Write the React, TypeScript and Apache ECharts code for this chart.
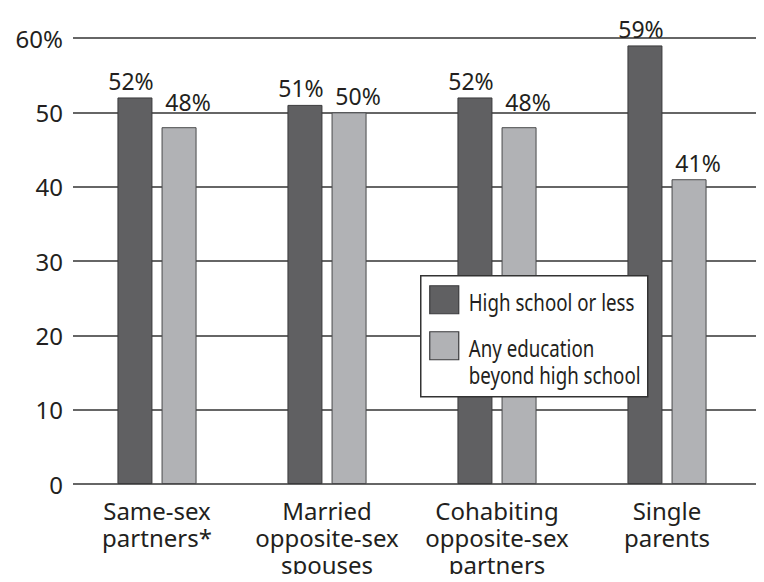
import React, { useEffect, useRef } from "react";
import * as echarts from "echarts";

const categories = [
  "Same-sex\npartners*",
  "Married\nopposite-sex\nspouses",
  "Cohabiting\nopposite-sex\npartners",
  "Single\nparents",
];
const highSchool = [52, 51, 52, 59];
const beyond = [48, 50, 48, 41];
const seriesNames = ["High school or less", "Any education\nbeyond high school"];
const yMax = 60;
const yStep = 10;

const FONT = "'Noto Sans', 'Open Sans', sans-serif";
const DARK = "#606062";
const LIGHT = "#b1b2b5";
const TEXT = "#231f20";

export default function App() {
  const ref = useRef<HTMLDivElement>(null);
  useEffect(() => {
    if (!ref.current) return;
    const chart = echarts.init(ref.current, undefined, { renderer: "svg" });
    const label = (dx: number) => ({
      show: true,
      position: "top",
      distance: 5,
      offset: [dx, 0],
      formatter: (p: any) => p.value + "%",
      color: TEXT,
      fontSize: 23,
      fontFamily: FONT,
    });
    // the light labels in groups 1 and 3 sit higher in the original (to clear neighbour labels)
    const beyondData = beyond.map((v, i) =>
      i === 0 || i === 2 ? { value: v, label: { offset: [9, -9] } } : v
    );
    const legendItem = (i: number, iconTop: number, textY: number, color: string) => [
      {
        type: "rect",
        z: 101,
        shape: { x: 9, y: iconTop, width: 29, height: 28 },
        style: { fill: color, stroke: "#3a3a3c", lineWidth: 1.2 },
      },
      {
        type: "text",
        z: 101,
        x: 48,
        y: textY,
        scaleX: 0.78,
        style: {
          text: seriesNames[i],
          fill: TEXT,
          font: `24px ${FONT}`,
          lineHeight: 27,
          align: "left",
          verticalAlign: "middle",
        },
      },
    ];
    chart.setOption({
      animation: false,
      backgroundColor: "#ffffff",
      grid: [
        { left: 72, right: 12, top: 38, bottom: 98 },
        { left: 73, right: 4, top: 38, bottom: 98 },
      ],
      xAxis: [
        {
          type: "category",
          gridIndex: 0,
          data: categories,
          axisLine: { show: false },
          axisTick: { show: false },
          axisLabel: {
            interval: 0,
            fontSize: 24,
            lineHeight: 27,
            fontFamily: FONT,
            color: TEXT,
            margin: 13,
          },
        },
        {
          type: "value",
          gridIndex: 1,
          min: 0,
          max: 1,
          show: false,
        },
      ],
      yAxis: [
        {
          type: "value",
          gridIndex: 0,
          min: 0,
          max: yMax,
          interval: yStep,
          show: false,
        },
        {
          type: "value",
          gridIndex: 1,
          min: 0,
          max: yMax,
          interval: yStep,
          axisLine: { show: false },
          axisTick: { show: false },
          splitLine: { show: true, lineStyle: { color: "#333333", width: 1.5 } },
          axisLabel: {
            fontSize: 24,
            fontFamily: FONT,
            color: TEXT,
            margin: 10,
            formatter: (v: number) => (v === yMax ? v + "%" : String(v)),
          },
        },
      ],
      series: [
        {
          name: seriesNames[0],
          type: "bar",
          xAxisIndex: 0,
          yAxisIndex: 0,
          data: highSchool,
          barWidth: 35,
          barGap: "26%",
          z: 5,
          itemStyle: { color: DARK, borderColor: "#3a3a3c", borderWidth: 1 },
          label: label(-4),
        },
        {
          name: seriesNames[1],
          type: "bar",
          xAxisIndex: 0,
          yAxisIndex: 0,
          data: beyondData,
          barWidth: 35,
          z: 5,
          itemStyle: { color: LIGHT, borderColor: "#4a4a4c", borderWidth: 1 },
          label: label(9),
        },
      ],
      graphic: [
        {
          type: "group",
          left: 420,
          top: 275,
          z: 100,
          children: [
            {
              type: "rect",
              z: 100,
              shape: { x: 0, y: 0, width: 227, height: 121 },
              style: { fill: "#ffffff", stroke: "#333333", lineWidth: 1.5 },
            },
            ...legendItem(0, 10, 26, DARK),
            ...legendItem(1, 56, 85, LIGHT),
          ],
        },
      ],
    });
    return () => chart.dispose();
  }, []);
  return <div ref={ref} style={{ width: 764, height: 582, margin: -8 }} />;
}
